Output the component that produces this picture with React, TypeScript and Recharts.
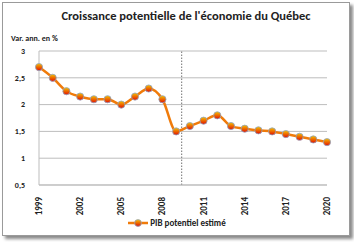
import React from 'react';
import {
  LineChart,
  Line,
  XAxis,
  YAxis,
  CartesianGrid,
  ReferenceLine,
  Legend,
} from 'recharts';

// années et croissance du PIB potentiel (var. ann. en %)
const years = [
  1999, 2000, 2001, 2002, 2003, 2004, 2005, 2006, 2007, 2008, 2009,
  2010, 2011, 2012, 2013, 2014, 2015, 2016, 2017, 2018, 2019, 2020,
];
const pibPotentiel = [
  2.7, 2.5, 2.25, 2.15, 2.1, 2.1, 2.0, 2.15, 2.3, 2.1, 1.5,
  1.6, 1.7, 1.8, 1.6, 1.55, 1.52, 1.5, 1.45, 1.4, 1.35, 1.3,
];
const xTicks = [1999, 2002, 2005, 2008, 2011, 2014, 2017, 2020];
const yTicks = [0.5, 1, 1.5, 2, 2.5, 3];
const separation = 2009.4; // fin des données observées

const data = years.map((y, i) => ({ annee: y, pib: pibPotentiel[i] }));

const FONT = 'Carlito, "Open Sans", "Liberation Sans", Arial, sans-serif';
const ORANGE = '#F07B0A';

function Dot(props: any) {
  const { cx, cy, key } = props;
  if (cx == null || cy == null) return null;
  return (
    <circle key={key} cx={cx} cy={cy} r={3.6} fill="url(#dotGrad)" stroke="#8FA3C4" strokeWidth={0.8} />
  );
}

function XTick(props: any) {
  const { x, y, payload } = props;
  return (
    <text
      x={0}
      y={0}
      transform={`translate(${x + 3},${y + 4}) rotate(-90)`}
      textAnchor="end"
      fontSize={9}
      fontWeight="bold"
      fill="#222"
      fontFamily={FONT}
    >
      {payload.value}
    </text>
  );
}

function LegendContent() {
  return (
    <div style={{ display: 'flex', alignItems: 'center', justifyContent: 'center', fontFamily: FONT, fontSize: 9, fontWeight: 'bold', color: '#222' }}>
      <svg width={20} height={10}>
        <defs>
          <linearGradient id="dotGradL" x1="0" y1="0" x2="0" y2="1">
            <stop offset="0%" stopColor="#F7C200" />
            <stop offset="100%" stopColor="#E21000" />
          </linearGradient>
        </defs>
        <line x1={0} y1={5} x2={20} y2={5} stroke={ORANGE} strokeWidth={2.5} />
        <circle cx={10} cy={5} r={3.4} fill="url(#dotGradL)" stroke="#8FA3C4" strokeWidth={0.8} />
      </svg>
      <span style={{ marginLeft: 2 }}>PIB potentiel estimé</span>
    </div>
  );
}

export default function App() {
  return (
    <div style={{ position: 'absolute', left: 0, top: 0, width: 354, height: 242, background: '#fff' }}>
      <div
        style={{
          position: 'absolute',
          left: 2,
          top: 2,
          width: 346,
          height: 232,
          border: '1px solid #9a9a9a',
          boxShadow: '3px 3px 3px #8a8a8a',
          background: '#fff',
        }}
      />
      <div
        style={{
          position: 'absolute',
          left: 0,
          top: 8,
          width: 372,
          textAlign: 'center',
          fontFamily: FONT,
          fontWeight: 'bold',
          fontSize: 12.5,
          color: '#222',
        }}
      >
        Croissance potentielle de l'économie du Québec
      </div>
      <div
        style={{
          position: 'absolute',
          left: 11,
          top: 33,
          fontFamily: FONT,
          fontWeight: 'bold',
          fontSize: 8,
          color: '#222',
        }}
      >
        Var. ann. en %
      </div>
      <div style={{ position: 'absolute', left: 0, top: 0 }}>
        <LineChart width={354} height={242} data={data} margin={{ top: 51, right: 27, bottom: 27, left: 0 }}>
          <defs>
            <linearGradient id="dotGrad" x1="0" y1="0" x2="0" y2="1">
              <stop offset="0%" stopColor="#F7C200" />
              <stop offset="100%" stopColor="#E21000" />
            </linearGradient>
          </defs>
          <CartesianGrid vertical={false} stroke="#bdbdbd" strokeWidth={1} />
          <XAxis
            dataKey="annee"
            type="number"
            domain={[1999, 2020]}
            ticks={xTicks}
            interval={0}
            height={30}
            tickLine={false}
            axisLine={{ stroke: '#bdbdbd' }}
            tick={<XTick />}
          />
          <YAxis
            domain={[0.5, 3]}
            ticks={yTicks}
            width={39}
            tickLine={false}
            axisLine={{ stroke: '#bdbdbd' }}
            tickFormatter={(v: number) => String(v).replace('.', ',')}
            tick={{ fontSize: 8, fontWeight: 'bold', fill: '#222', fontFamily: FONT }}
            tickMargin={8}
          />
          <ReferenceLine x={separation} stroke="#8a8a8a" strokeDasharray="1.5 1.5" strokeWidth={1.2} />
          <Line
            type="monotone"
            dataKey="pib"
            name="PIB potentiel estimé"
            stroke={ORANGE}
            strokeWidth={2.5}
            dot={<Dot />}
            activeDot={false}
            isAnimationActive={false}
          />
          <Legend
            layout="horizontal"
            verticalAlign="middle"
            align="center"
            wrapperStyle={{ top: 217, left: 0, width: 354 }}
            content={<LegendContent />}
          />
        </LineChart>
      </div>
    </div>
  );
}
